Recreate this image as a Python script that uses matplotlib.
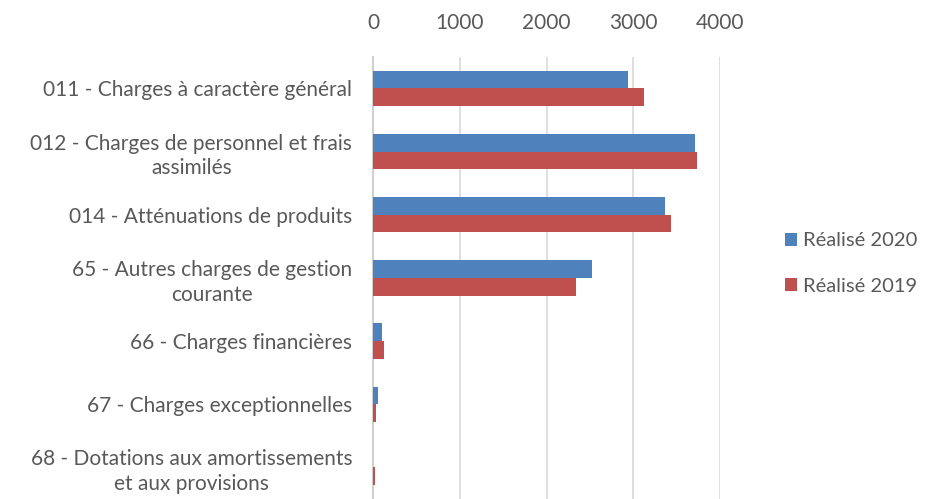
import numpy as np
import matplotlib.pyplot as plt

categories = ["011 - Charges à caractère général",
              "012 - Charges de personnel et frais\nassimilés",
              "014 - Atténuations de produits",
              "65 - Autres charges de gestion\ncourante",
              "66 - Charges financières",
              "67 - Charges exceptionnelles",
              "68 - Dotations aux amortissements\net aux provisions"]
realise_2020 = [2943, 3706, 3360, 2527, 100, 53, 0]
realise_2019 = [3128, 3734, 3429, 2342, 123, 30, 28]
xticks = [0, 1000, 2000, 3000, 4000]

plt.rcParams['font.family'] = ['Lato', 'DejaVu Sans']
txt = '#595959'
fs = 15

fig = plt.figure(figsize=(9.28, 4.99), dpi=100)
ax = fig.add_axes([0.402, 0.0, 0.374, 0.886])

y = np.arange(len(categories))
h = 0.28
ax.barh(y - h / 2, realise_2020, height=h, color='#4F81BD', label='Réalisé 2020', zorder=3)
ax.barh(y + h / 2, realise_2019, height=h, color='#C0504D', label='Réalisé 2019', zorder=3)

ax.set_ylim(len(categories) - 0.5, -0.5)
ax.set_xlim(0, 4000)
ax.set_xticks(xticks)
ax.set_xticklabels([str(t) for t in xticks])
ax.xaxis.tick_top()
ax.tick_params(axis='x', length=0, pad=17, labelsize=fs, colors=txt)
ax.set_yticks(y)
ax.set_yticklabels(categories, fontsize=fs, color=txt, linespacing=1.3,
                   multialignment='center')
ax.tick_params(axis='y', length=0, pad=15)
ax.grid(axis='x', color='#D9D9D9', linewidth=1.2, zorder=0)
for s in ['top', 'right', 'bottom']:
    ax.spines[s].set_visible(False)
ax.spines['left'].set_color('#D0D0D0')
ax.spines['left'].set_linewidth(1.5)

fig.legend(loc='center left', bbox_to_anchor=(0.826, 0.472), frameon=False,
           fontsize=14.5, labelcolor=txt, handlelength=0.6, handleheight=0.6,
           handletextpad=0.3, labelspacing=1.4)

fig.savefig('out.png', dpi=100)
